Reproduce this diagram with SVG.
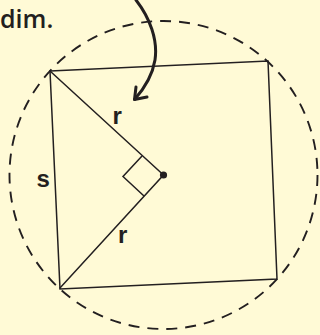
<svg xmlns="http://www.w3.org/2000/svg" width="320" height="335" viewBox="0 0 320 335">
<style>
.ln{fill:none;stroke:#231f20;stroke-width:1.5;stroke-linejoin:miter}
.lbl{font-family:"Liberation Sans",Arial,sans-serif;font-weight:bold;font-size:24px;fill:#231f20}
</style>
<rect width="320" height="335" fill="#fffad6"/>
<text x="0" y="28" font-family="'Open Sans',sans-serif" font-size="25" font-weight="600" fill="#231f20">dim.</text>
<g id="circle">
<circle cx="163.5" cy="175" r="154" fill="none" stroke="#231f20" stroke-width="1.9" stroke-dasharray="11 8"/>
</g>
<g id="square">
<polygon class="ln" points="50,71 268,61 277,279 60,289"/>
</g>
<g id="radii">
<polyline class="ln" points="50,71 163.5,175 59.5,288.5"/>
<polyline class="ln" stroke-width="1.9" points="142,156 123,176.5 144,196"/>
<circle cx="163.5" cy="175" r="3.6" fill="#231f20"/>
</g>
<g id="connectors">
<path d="M136,0 C150,18 158,40 155,60 C152,78 143,90 134.5,99.5" fill="none" stroke="#231f20" stroke-width="3" stroke-linecap="round"/>
<polyline points="136,87 134.5,99.5 147,97" fill="none" stroke="#231f20" stroke-width="3" stroke-linecap="round" stroke-linejoin="round"/>
</g>
<g id="labels">
<text class="lbl" x="112.5" y="124">r</text>
<text class="lbl" x="118" y="243">r</text>
<text class="lbl" x="36.5" y="187">s</text>
</g>
</svg>
